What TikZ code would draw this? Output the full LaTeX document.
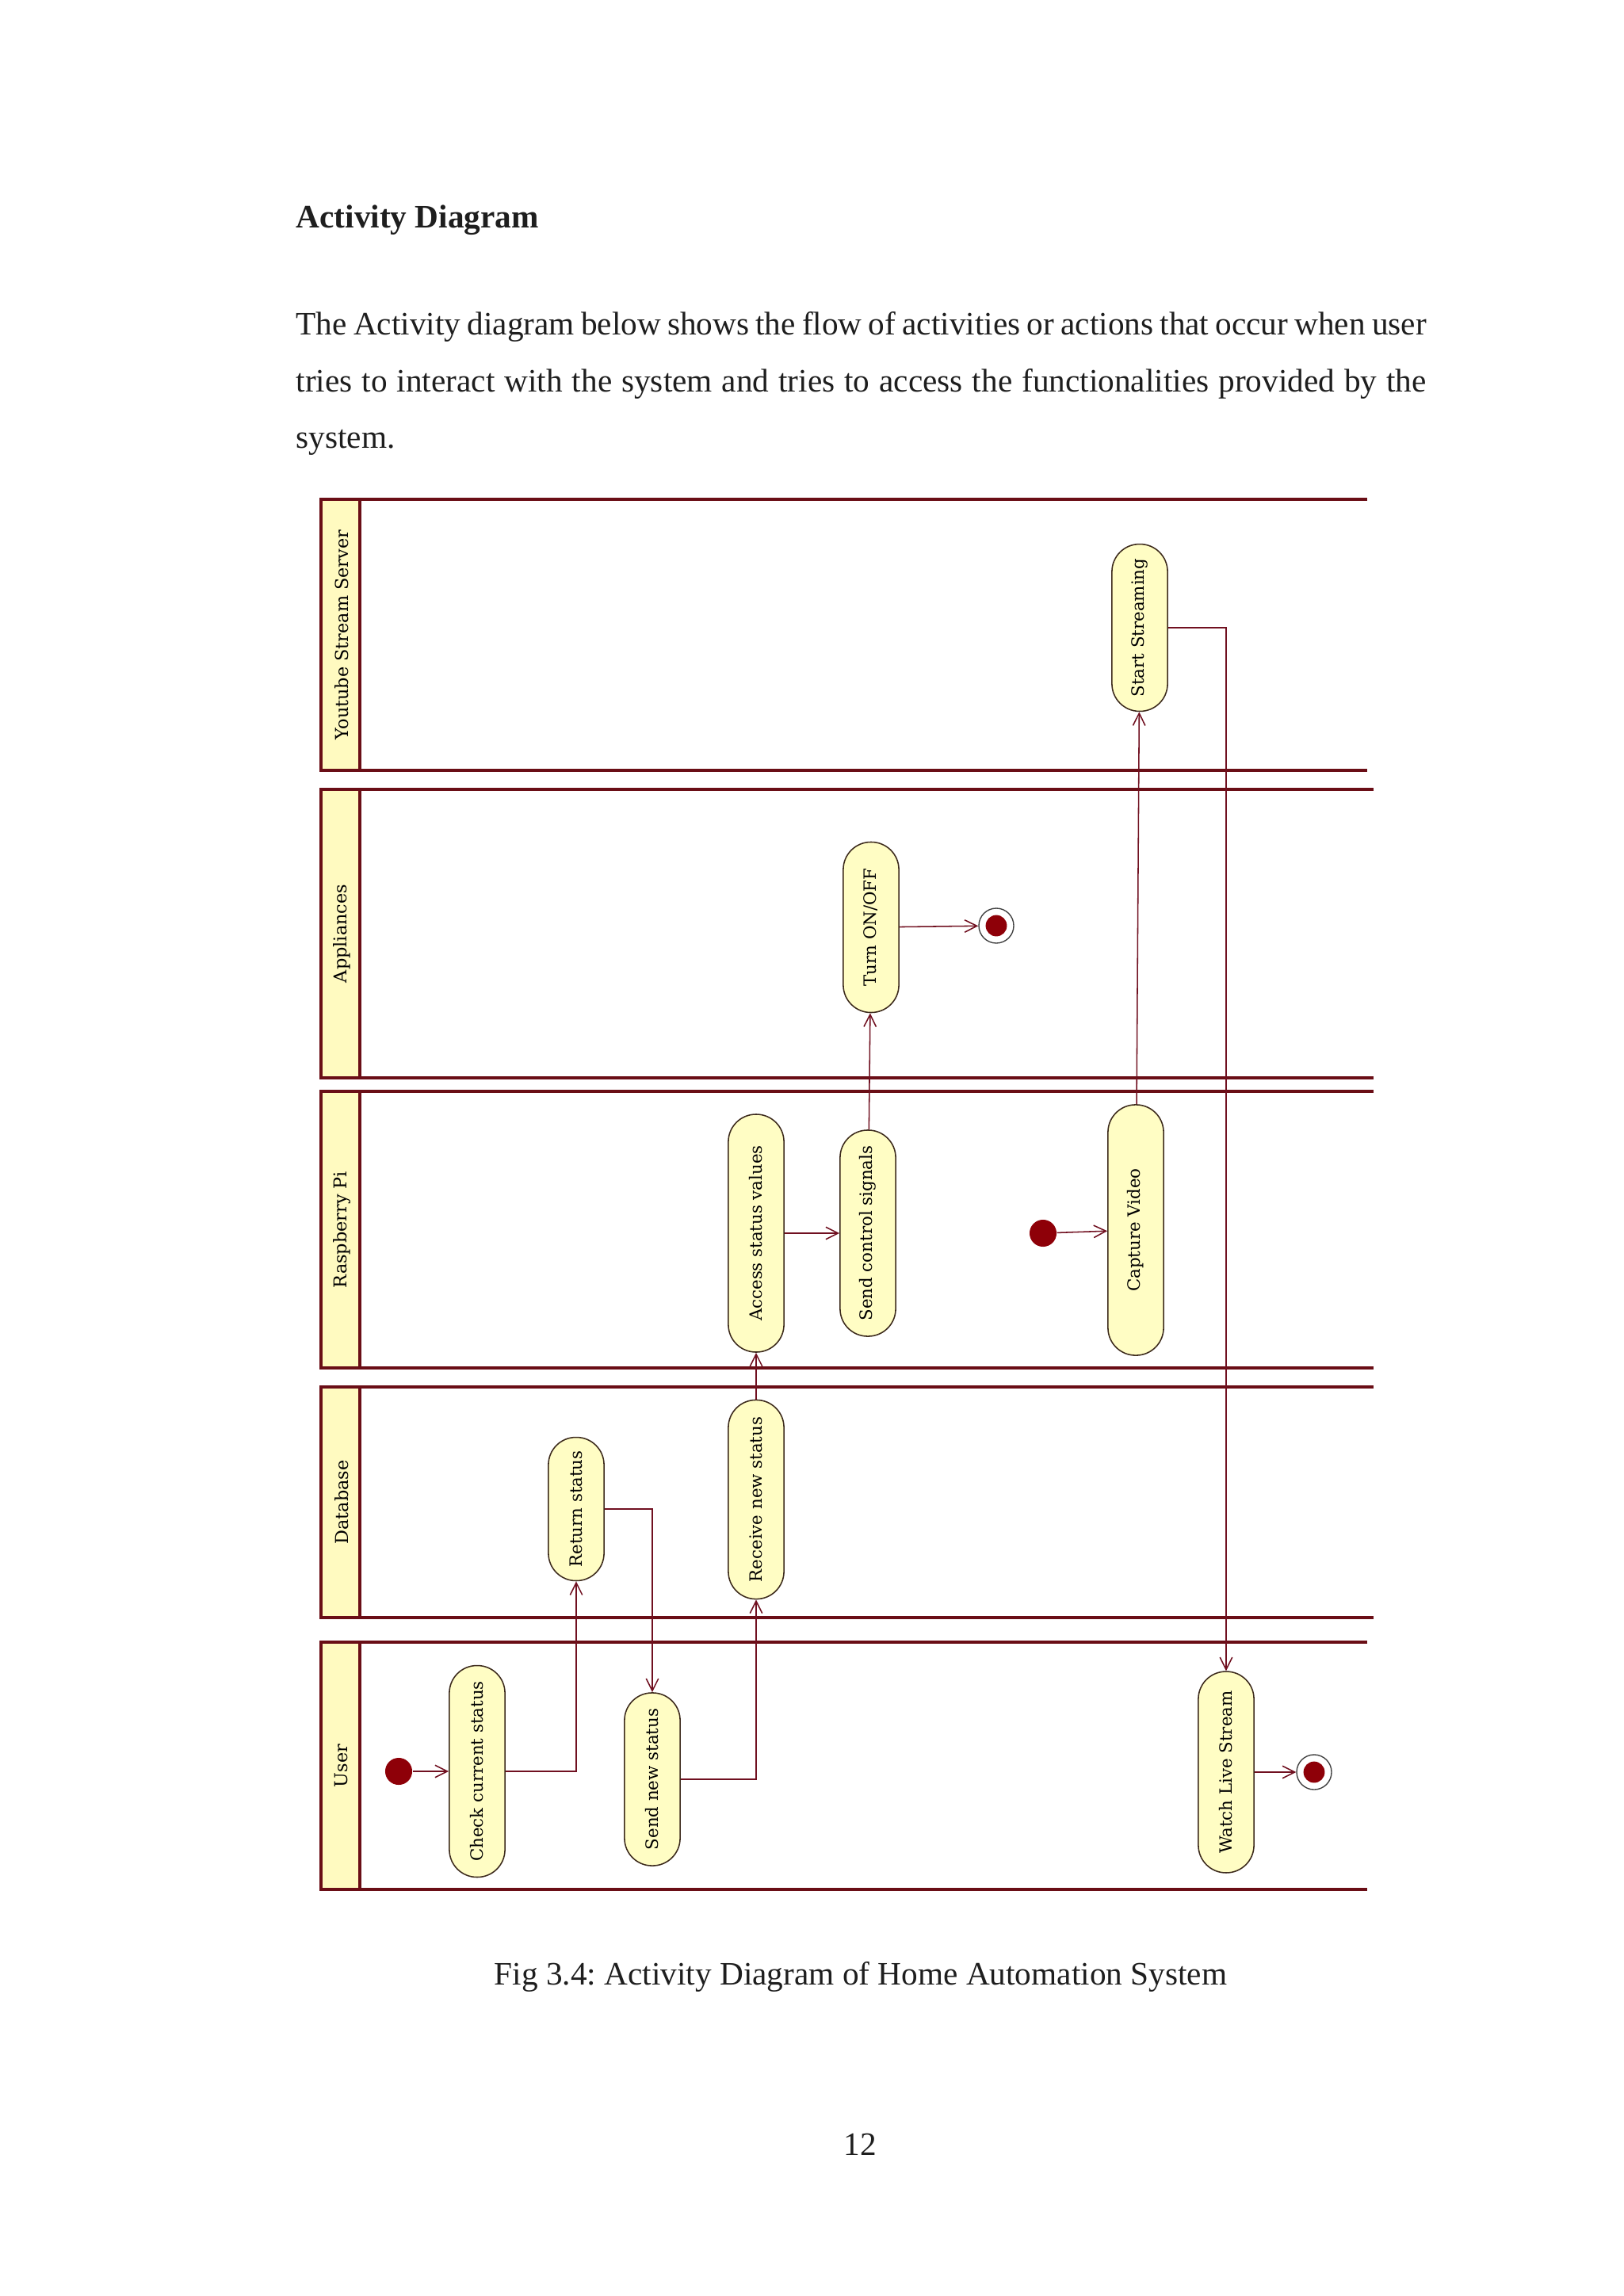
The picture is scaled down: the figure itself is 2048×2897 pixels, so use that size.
\documentclass[tikz,border=0pt]{standalone}
\usepackage{fontspec}
\setmainfont{Liberation Serif}
\newfontfamily\umlfont{DejaVu Serif}
\usepackage{graphicx}
\usetikzlibrary{arrows.meta,positioning}
\definecolor{lanered}{HTML}{6A0E16}
\definecolor{flowred}{HTML}{701020}
\definecolor{dotred}{HTML}{8E0008}
\definecolor{headyellow}{HTML}{FFFAC0}
\definecolor{actyellow}{HTML}{FFFDC4}
\definecolor{actline}{HTML}{3C2A1C}
\definecolor{pagetext}{HTML}{1E1E1E}
\newcommand{\vlabel}[1]{\rotatebox{90}{#1}}
\frenchspacing
\tikzset{
  lane/.style={draw=lanered,line width=1.2pt},
  lanehead/.style={fill=headyellow},
  lanename/.style={rotate=90,inner sep=0pt,font=\umlfont\fontsize{6.5}{7.5}\selectfont},
  activity/.style={draw=actline,fill=actyellow,line width=0.45pt,rounded corners=10.1pt,
    minimum width=20.4pt,minimum height=#1,inner sep=1pt,font=\umlfont\fontsize{6.2}{7.2}\selectfont},
  startdot/.style={circle,fill=dotred,inner sep=0pt,minimum size=9.9pt},
  enddot/.style={circle,draw=black!75,line width=0.4pt,fill=white,inner sep=0pt,minimum size=12.8pt,
    path picture={\fill[dotred] (path picture bounding box.center) circle (3.9pt);}},
  flow/.style={draw=flowred,line width=0.45pt,-{Straight Barb[length=4.5pt,width=4.5pt]}},
  pagetxt/.style={text=pagetext,inner sep=0pt}
}
\begin{document}
\begin{tikzpicture}[x=0.29067pt,y=-0.29067pt]
\useasboundingbox (0,0) rectangle (2048,2897);
\node[pagetxt,anchor=base west,font=\fontsize{12}{14}\selectfont\bfseries] (heading) at (373,287) {Activity Diagram};
\node[pagetxt,anchor=base west,font=\fontsize{12}{14}\selectfont] (para1) at (373,422) {\makebox[414.5pt][s]{The Activity diagram below shows the flow of activities or actions that occur when user}};
\node[pagetxt,anchor=base west,font=\fontsize{12}{14}\selectfont] (para2) at (373,494) {\makebox[414.5pt][s]{tries to interact with the system and tries to access the functionalities provided by the}};
\node[pagetxt,anchor=base west,font=\fontsize{12}{14}\selectfont] (para3) at (373,565) {system.};
\foreach \ltop/\lbot/\lend/\lname in {630/972/1725/Youtube Stream Server,996/1360/1733/Appliances,1377/1726/1733/Raspberry Pi,1750/2041/1733/Database,2072/2384/1725/User}{
  \fill[lanehead] (405,\ltop) rectangle (454,\lbot);
  \draw[lane] (454,\ltop) -- (454,\lbot);
  \draw[lane] (\lend,\ltop) -- (405,\ltop) -- (405,\lbot) -- (\lend,\lbot);
  \node[lanename] (lane\ltop) at (431,{(\ltop+\lbot)/2}) {\lname};
}
\node[activity=61.3pt] (stream) at (1438,792) {\vlabel{Start Streaming}};
\node[activity=62.5pt] (onoff) at (1099,1170) {\vlabel{Turn ON/OFF}};
\node[enddot] (append) at (1257,1168) {};
\node[activity=87.2pt] (access) at (954,1556) {\vlabel{Access status values}};
\node[activity=75.6pt] (signals) at (1095,1556) {\vlabel{Send control signals}};
\node[startdot] (pistart) at (1316,1556) {};
\node[activity=91.9pt] (capture) at (1433,1552) {\vlabel{Capture Video}};
\node[activity=52.6pt] (retstatus) at (727,1904) {\vlabel{Return status}};
\node[activity=73pt] (recvstatus) at (954,1892) {\vlabel{Receive new status}};
\node[startdot] (userstart) at (503,2235) {};
\node[activity=77.6pt] (check) at (602,2235) {\vlabel{Check current status}};
\node[activity=63.4pt] (sendnew) at (823,2245) {\vlabel{Send new status}};
\node[activity=73.8pt] (watch) at (1547,2236) {\vlabel{Watch Live Stream}};
\node[enddot] (userend) at (1658,2236) {};
\draw[flow] (userstart) -- (check);
\draw[flow] (check.east) -| (retstatus.south);
\draw[flow] (retstatus.east) -| (sendnew.north);
\draw[flow] (sendnew.east) -| (recvstatus.south);
\draw[flow] (recvstatus) -- (access);
\draw[flow] (access) -- (signals);
\draw[flow] (signals) -- (onoff);
\draw[flow] (onoff) -- (append);
\draw[flow] (pistart) -- (capture);
\draw[flow] (capture) -- (stream);
\draw[flow] (stream.east) -| (watch.north);
\draw[flow] (watch) -- (userend);
\node[pagetxt,anchor=base,font=\fontsize{12}{14}\selectfont] (caption) at (1086,2504) {Fig 3.4: Activity Diagram of Home Automation System};
\node[pagetxt,anchor=base,font=\fontsize{12}{14}\selectfont] (pagenum) at (1085,2719) {12};
\end{tikzpicture}
\end{document}
